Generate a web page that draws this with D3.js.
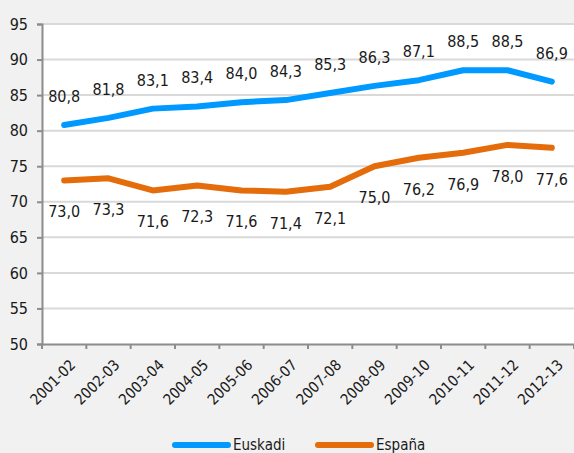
<!DOCTYPE html>
<html>
<head>
<meta charset="utf-8">
<script src="https://cdn.jsdelivr.net/npm/d3@7"></script>
<style>
  body { margin: 0; background: #f1f1f1; }
  text { font-family: "DejaVu Sans Condensed", "DejaVu Sans", sans-serif; font-stretch: condensed; fill: #1a1a1a; }
</style>
</head>
<body>
<div id="chart"></div>
<script>
const periods = ["2001-02", "2002-03", "2003-04", "2004-05", "2005-06", "2006-07",
  "2007-08", "2008-09", "2009-10", "2010-11", "2011-12", "2012-13"];
const euskadi = [80.8, 81.8, 83.1, 83.4, 84.0, 84.3, 85.3, 86.3, 87.1, 88.5, 88.5, 86.9];
const espana = [73.0, 73.3, 71.6, 72.3, 71.6, 71.4, 72.1, 75.0, 76.2, 76.9, 78.0, 77.6];
const yTicks = [50, 55, 60, 65, 70, 75, 80, 85, 90, 95];

const width = 574, height = 453;
const margin = { top: 24, right: 0, bottom: 109, left: 42 };

const svg = d3.select("#chart").append("svg")
  .attr("width", width)
  .attr("height", height);

const x = d3.scaleBand()
  .domain(periods)
  .range([margin.left, width - margin.right]);

const y = d3.scaleLinear()
  .domain([50, 95])
  .range([height - margin.bottom, margin.top]);

// plot area
svg.append("rect")
  .attr("x", margin.left)
  .attr("y", margin.top)
  .attr("width", width - margin.left - margin.right)
  .attr("height", y(50) - margin.top)
  .attr("fill", "#fff");

// grid
svg.selectAll(".grid")
  .data(yTicks.slice(1))
  .enter()
  .append("line")
  .attr("x1", margin.left)
  .attr("x2", width - margin.right)
  .attr("y1", d => y(d))
  .attr("y2", d => y(d))
  .attr("stroke", "#d9d9d9")
  .attr("stroke-width", 2);

// y axis
const yAxis = svg.append("g")
  .attr("transform", `translate(${margin.left},0)`)
  .call(d3.axisLeft(y).tickValues(yTicks).tickSize(5).tickPadding(9));
yAxis.select(".domain").attr("stroke", "#8c8c8c").attr("stroke-width", 2);
yAxis.selectAll(".tick line").attr("stroke", "#8c8c8c").attr("stroke-width", 2);
yAxis.selectAll("text").style("font-size", "16px").attr("fill", "#1a1a1a");

// x axis, ticks on category boundaries
const xAxis = svg.append("g")
  .attr("transform", `translate(0,${y(50)})`)
  .call(d3.axisBottom(x).tickSize(0).tickPadding(0));
xAxis.select(".domain").attr("stroke", "#8c8c8c").attr("stroke-width", 2);
xAxis.selectAll(".tick text")
  .style("font-size", "15px")
  .attr("fill", "#1a1a1a")
  .attr("text-anchor", "end")
  .attr("transform", `translate(${x.bandwidth() / 2 - 18},14) rotate(-45)`)
  .attr("dy", "0.75em");
xAxis.selectAll(".bound")
  .data(d3.range(periods.length + 1))
  .enter()
  .append("line")
  .attr("x1", i => margin.left + i * x.step())
  .attr("x2", i => margin.left + i * x.step())
  .attr("y1", 0)
  .attr("y2", 5)
  .attr("stroke", "#8c8c8c")
  .attr("stroke-width", 2);

const cx = d => x(d) + x.bandwidth() / 2;

const line = d3.line()
  .x((d, i) => cx(periods[i]))
  .y(d => y(d));

const series = [
  { name: "Euskadi", values: euskadi, color: "#0099ff", dy: -23 },
  { name: "España", values: espana, color: "#e46c0a", dy: 37 }
];

series.forEach(s => {
  svg.append("path")
    .datum(s.values)
    .attr("d", line)
    .attr("fill", "none")
    .attr("stroke", s.color)
    .attr("stroke-width", 6)
    .attr("stroke-linecap", "round")
    .attr("stroke-linejoin", "round");

  svg.selectAll(null)
    .data(s.values)
    .enter()
    .append("text")
    .attr("x", (d, i) => cx(periods[i]))
    .attr("y", d => y(d) + s.dy)
    .attr("text-anchor", "middle")
    .style("font-size", "16px")
    .text(d => d.toFixed(1).replace(".", ","));
});

// legend
const legend = svg.append("g").attr("transform", `translate(0,${height - 8})`);
[{ s: series[0], x: 175 }, { s: series[1], x: 318 }].forEach(l => {
  legend.append("line")
    .attr("x1", l.x)
    .attr("x2", l.x + 53)
    .attr("y1", 0)
    .attr("y2", 0)
    .attr("stroke", l.s.color)
    .attr("stroke-width", 6)
    .attr("stroke-linecap", "round");
  legend.append("text")
    .attr("x", l.x + 58)
    .attr("y", 5)
    .style("font-size", "15px")
    .text(l.s.name);
});
</script>
</body>
</html>
